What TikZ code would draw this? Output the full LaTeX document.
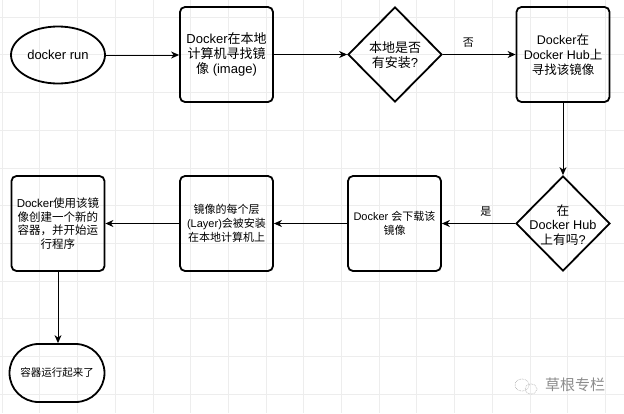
\documentclass[tikz,border=0pt]{standalone}
\usepackage{fontspec}
\setmainfont{Liberation Sans}
\newfontfamily\cjk{Noto Sans CJK SC}
\newcommand\zh[1]{{\cjk #1}}
\newcommand\fs[2]{\fontsize{#1}{#2}\selectfont}
\usetikzlibrary{shapes.geometric,arrows.meta}
\begin{document}
\begin{tikzpicture}[x=1pt,y=-1pt,
  gridline/.style={draw=black!7,line width=0.6pt},
  shp/.style={draw=black,line width=1.8pt,inner sep=0pt,align=center},
  box/.style={shp,rounded corners=5pt,minimum width=93pt,minimum height=95pt},
  dia/.style={shp,diamond,minimum width=94pt,minimum height=95pt},
  dtext/.style={align=center,inner sep=0pt},
  conn/.style={draw=black,line width=1pt,-{Stealth[length=8pt,width=7pt,inset=2.5pt]}},
  lbl/.style={font=\cjk\fs{11}{13},inner sep=0pt}
]
\useasboundingbox (0,0) rectangle (624,413);
\fill[white] (0,0) rectangle (624,413);
\foreach \i in {0,...,16} \draw[gridline] ({2+37.7*\i},0) -- ({2+37.7*\i},413);
\foreach \j in {0,...,10} \draw[gridline] (0,{17+37.7*\j}) -- (624,{17+37.7*\j});

% top row
\node[shp,ellipse,minimum width=94pt,minimum height=57pt,font=\fs{13}{15}] (e1) at (58,55) {docker run};
\node[box,font=\fs{13}{15}] (b1) at (226.5,54.5) {Docker\zh{在本地}\\\zh{计算机寻找镜}\\\zh{像} (image)};
\node[dia] (d1) at (395,54.5) {};
\node[dtext,font=\fs{13}{15}] (d1t) at (395,55) {\zh{本地是否}\\\zh{有安装}?};
\node[box,font=\fs{12.5}{15}] (b2) at (563,54.5) {Docker\zh{在}\\Docker Hub\zh{上}\\\zh{寻找该镜像}};

% bottom row
\node[dia] (d2) at (563,223.5) {};
\node[dtext,font=\fs{12.7}{14.5}] (d2t) at (563,225) {\zh{在}\\Docker Hub\\\zh{上有吗}?};
\node[box,font=\fs{11}{13.5}] (b3) at (394.5,223.5) {Docker \zh{会下载该}\\\zh{镜像}};
\node[box,font=\fs{11}{14}] (b4) at (226.5,223.5) {\zh{镜像的每个层}\\(Layer)\zh{会被安装}\\\zh{在本地计算机上}};
\node[box,font=\fs{11.5}{13.7}] (b5) at (58,223.5) {Docker\zh{使用该镜}\\\zh{像创建一个新的}\\\zh{容器，并开始运}\\\zh{行程序}};
\node[shp,rounded corners=29pt,minimum width=95pt,minimum height=58pt,font=\fs{10.5}{12}] (t1) at (57,373) {\zh{容器运行起来了}};

% connectors
\draw[conn] (e1.east) -- (e1.east -| b1.west);
\draw[conn] (b1.east) -- (d1.west);
\draw[conn] (d1.east) -- node[lbl,pos=0.35,above=7pt,name=lno] {否} (b2.west);
\draw[conn] (b2.south) -- (d2.north);
\draw[conn] (d2.west) -- node[lbl,pos=0.4,above=7pt,name=lyes] {是} (b3.east);
\draw[conn] (b3.west) -- (b4.east);
\draw[conn] (b4.west) -- (b5.east);
\draw[conn] (b5.south) -- (b5.south |- t1.north);

% watermark
\draw[black!35,line width=0.6pt,densely dotted] (522,385) ellipse (7pt and 6pt);
\draw[black!35,line width=0.6pt,densely dotted] (531,389) ellipse (6pt and 5pt);
\node[text=black!45,font=\cjk\fs{15}{15},inner sep=0pt] (wm) at (575,385) {草根专栏};
\end{tikzpicture}
\end{document}
